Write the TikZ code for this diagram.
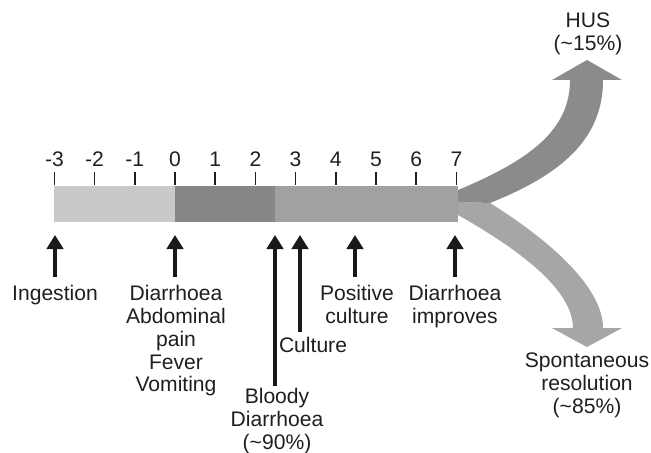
\documentclass[tikz,border=0pt]{standalone}
\usepackage{fontspec}
\setmainfont{Liberation Sans}
\usepackage{tikz}
\usetikzlibrary{arrows.meta}

\definecolor{txtgray}{HTML}{1F1F1F}
\definecolor{barlight}{HTML}{C9C9C9}
\definecolor{bardark}{HTML}{878787}
\definecolor{barmid}{HTML}{A1A1A1}
\definecolor{husgray}{HTML}{8B8B8B}
\definecolor{resgray}{HTML}{A6A6A6}

\begin{document}
\begin{tikzpicture}[x=0.03cm, y=-0.03cm,
    lbl/.style={font=\fontsize{18pt}{19.5pt}\selectfont, text=txtgray, align=center, inner sep=0pt},
    evt/.style={line width=3.4pt, draw=black!90, -{Triangle[width=14pt,length=12pt]}, shorten <=7pt}]
    \useasboundingbox (0,0) rectangle (651,453);

    % Timeline bar
    \fill[barlight] (54,186) rectangle (175,222);
    \fill[bardark] (175,186) rectangle (275,222);
    \fill[barmid] (275,186) rectangle (458,222);

    % Day ticks
    \foreach \d in {-3,...,7} {
        \draw[txtgray, line width=1.4pt] ({175+40.2*\d},172) -- ({175+40.2*\d},185);
        \node[lbl, anchor=base] (day\d) at ({175+40.2*\d},167) {\d};
    }

    % Outcomes
    \fill[resgray] (458,202) -- (490,203) .. controls (530,228) and (603,280) .. (603,328)
        -- (622,328) -- (587,347) -- (552,328) -- (573,328)
        .. controls (573,290) and (520,250) .. (458,215) -- cycle;
    \fill[husgray] (458,190) .. controls (530,160) and (570,130) .. (570,80)
        -- (552,80) -- (587,60) -- (622,80) -- (603,80)
        .. controls (603,140) and (560,175) .. (490,203) -- (458,202) -- cycle;
    \node[lbl, anchor=north] (hus) at (588,13) {HUS\\(\textasciitilde15\%)};
    \node[lbl, anchor=north] (res) at (587,353) {Spontaneous\\resolution\\(\textasciitilde85\%)};

    % Events
    \node[lbl, anchor=north] (ing) at (55,285) {Ingestion};
    \node[lbl, anchor=north] (sym) at (176,285) {Diarrhoea\\Abdominal\\pain\\Fever\\Vomiting};
    \node[lbl, anchor=north] (bloody) at (277,388) {Bloody\\Diarrhoea\\(\textasciitilde90\%)};
    \node[lbl, anchor=north] (cult) at (313,337) {Culture};
    \node[lbl, anchor=north] (pos) at (357,285) {Positive\\culture};
    \node[lbl, anchor=north] (impr) at (455,285) {Diarrhoea\\improves};

    \coordinate (tIng) at (55,235);
    \coordinate (tSym) at (175,235);
    \coordinate (tBloody) at (275,235);
    \coordinate (tCult) at (300,235);
    \coordinate (tPos) at (355,235);
    \coordinate (tImpr) at (455,235);

    \draw[evt] (ing.north -| tIng) -- (tIng);
    \draw[evt] (sym.north -| tSym) -- (tSym);
    \draw[evt, shorten <=1.5pt] (bloody.north -| tBloody) -- (tBloody);
    \draw[evt, shorten <=4pt] (cult.north -| tCult) -- (tCult);
    \draw[evt] (pos.north -| tPos) -- (tPos);
    \draw[evt] (impr.north -| tImpr) -- (tImpr);
\end{tikzpicture}
\end{document}
